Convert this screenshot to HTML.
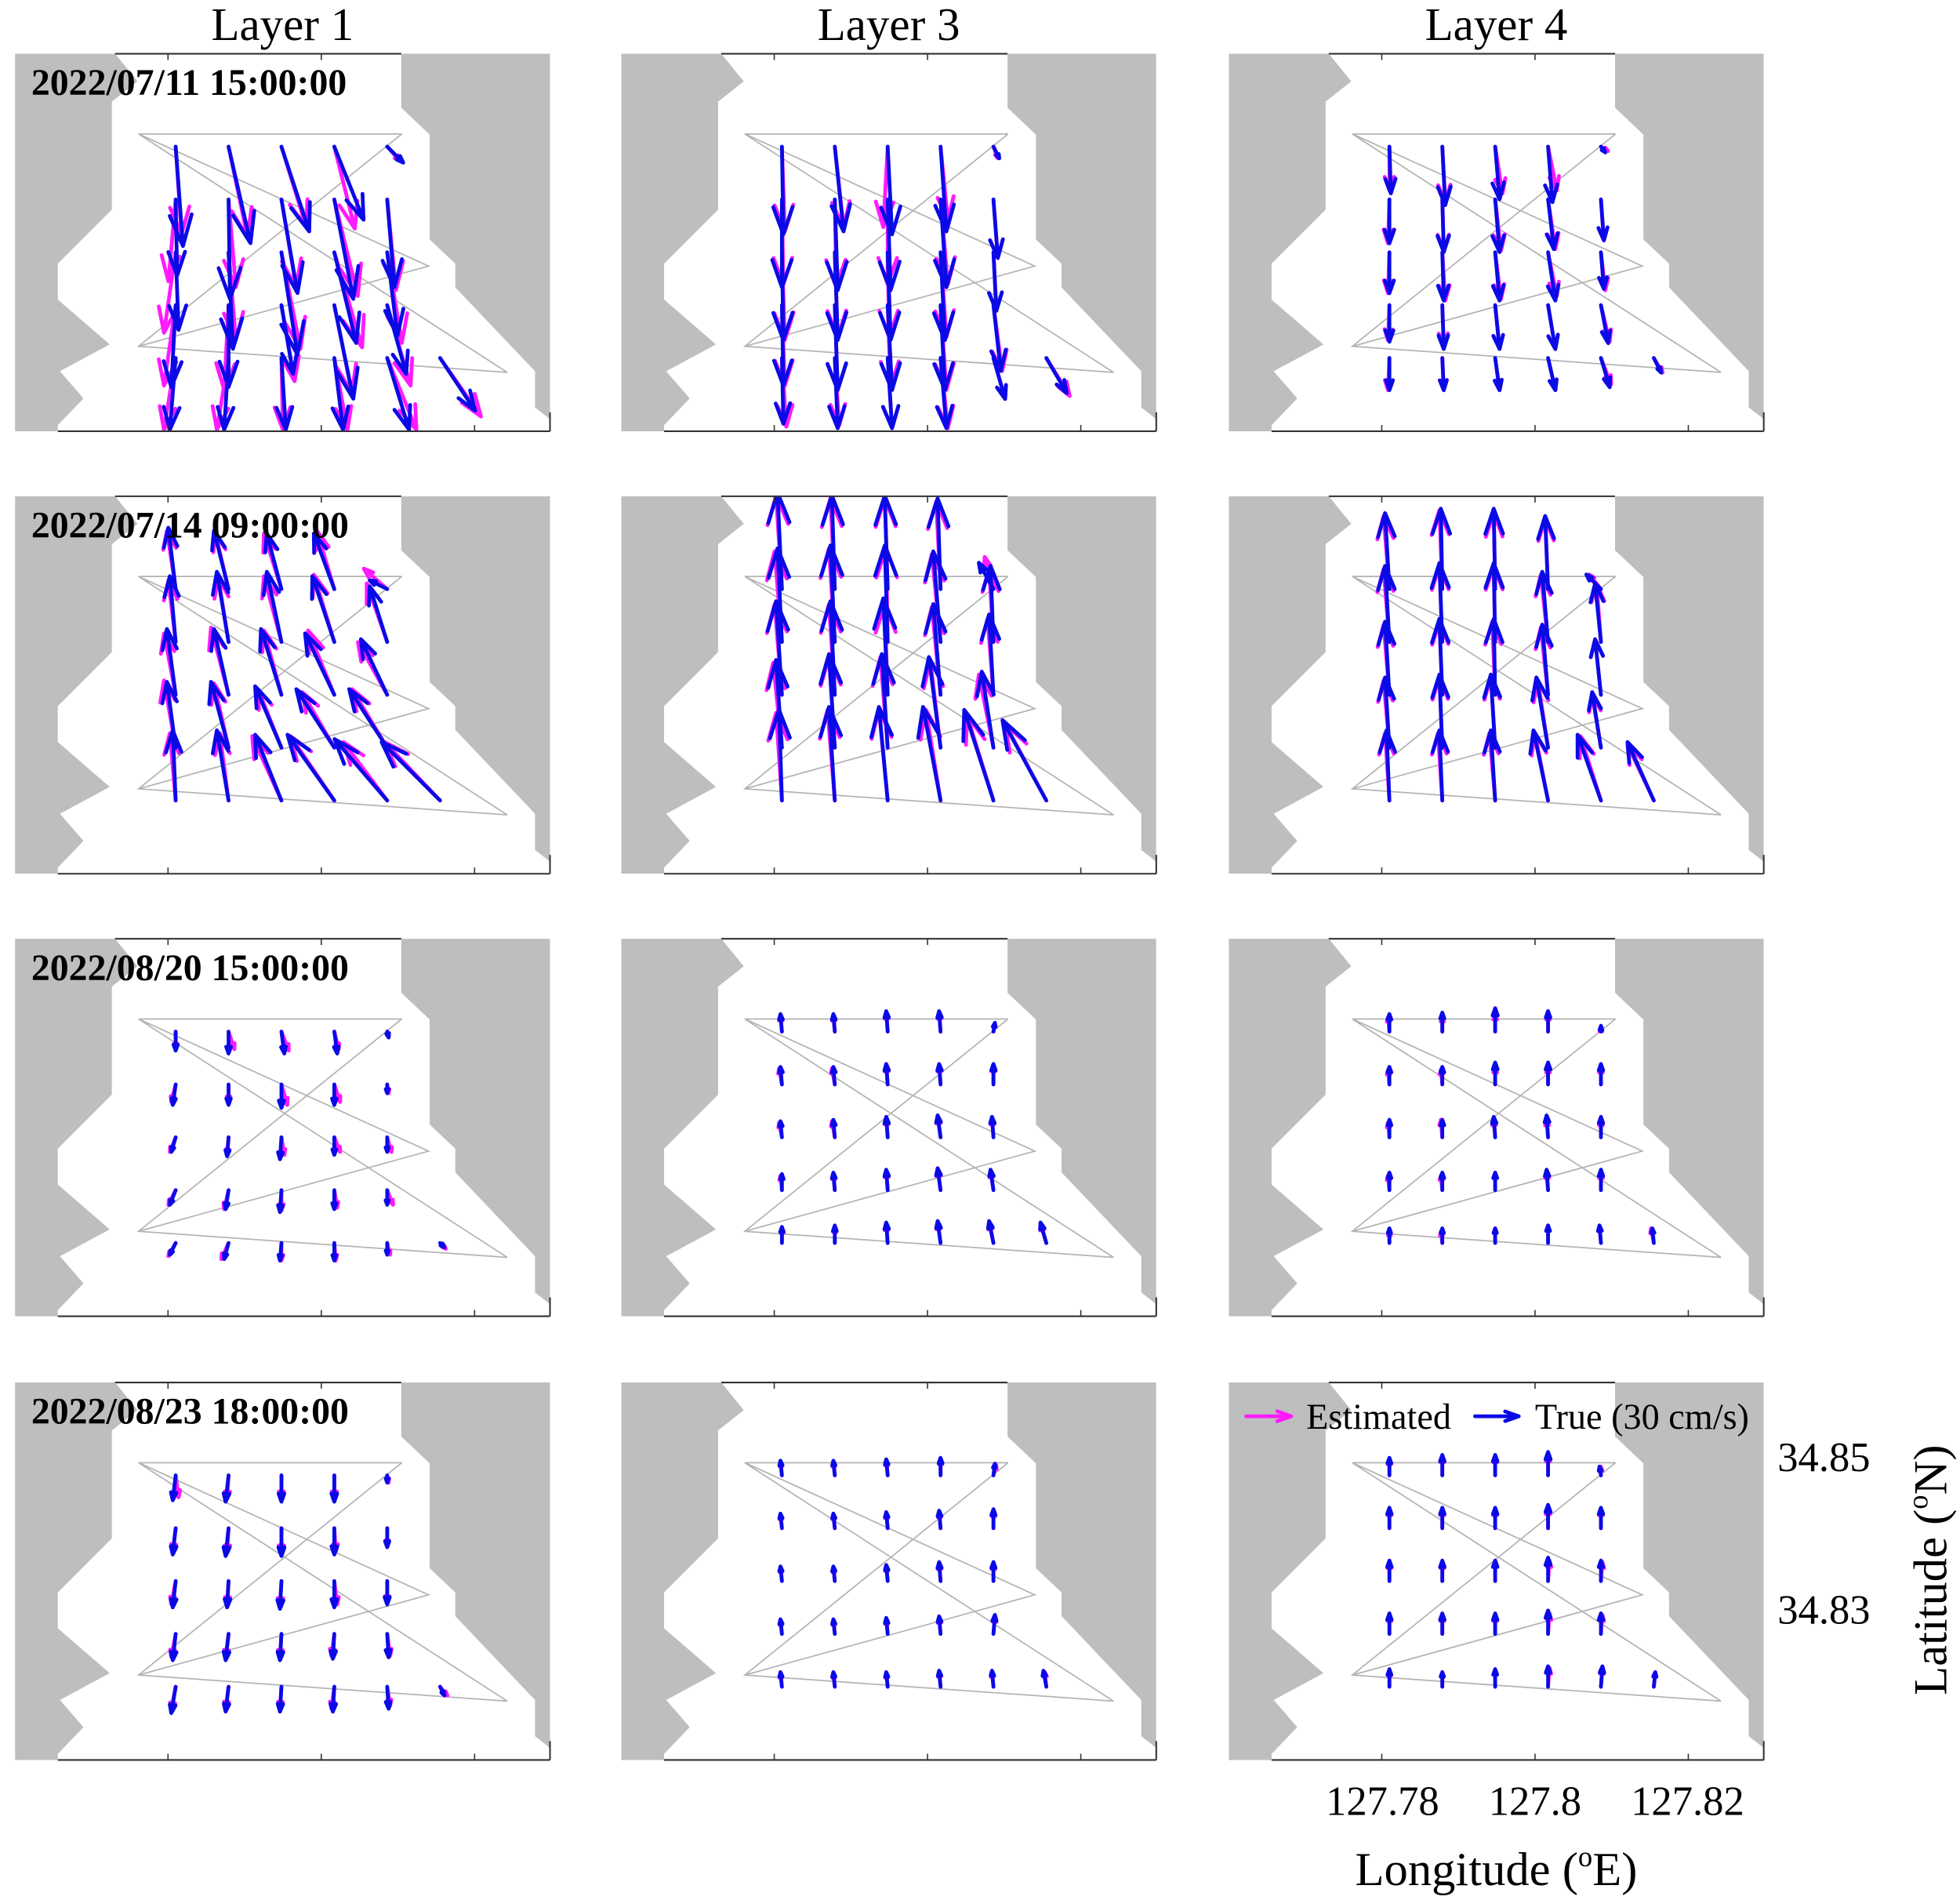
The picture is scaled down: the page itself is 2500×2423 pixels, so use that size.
<!DOCTYPE html>
<html><head><meta charset="utf-8">
<style>
html,body{margin:0;padding:0;background:#fff;}
svg{display:block;}
text{font-family:"Liberation Serif",serif;}
</style></head>
<body>
<svg id="fig" width="2500" height="2423" viewBox="0 0 1568 1520" preserveAspectRatio="none" xmlns="http://www.w3.org/2000/svg">
<rect x="0" y="0" width="1568" height="1520" fill="#fff"/>
<g id="panels"></g>
<text x="226" y="32" font-size="37" text-anchor="middle">Layer 1</text>
<text x="711" y="32" font-size="37" text-anchor="middle">Layer 3</text>
<text x="1197" y="32" font-size="37" text-anchor="middle">Layer 4</text>
<text x="1106" y="1452" font-size="33" text-anchor="middle">127.78</text>
<text x="1228" y="1452" font-size="33" text-anchor="middle">127.8</text>
<text x="1350" y="1452" font-size="33" text-anchor="middle">127.82</text>
<text x="1197" y="1508" font-size="38" text-anchor="middle">Longitude (<tspan font-size="23" dy="-15">o</tspan><tspan dy="15">E)</tspan></text>
<text x="1422" y="1177" font-size="33">34.85</text>
<text x="1422" y="1299" font-size="33">34.83</text>
<text transform="translate(1557,1256) rotate(-90)" font-size="38" text-anchor="middle">Latitude (<tspan font-size="23" dy="-15">o</tspan><tspan dy="15">N)</tspan></text>
</svg>
<script>
// ---- data ----
const layers = ["Layer 1","Layer 3","Layer 4"];
const dates = ["2022/07/11 15:00:00","2022/07/14 09:00:00","2022/08/20 15:00:00","2022/08/23 18:00:00"];
const gridLon = [127.781,127.7879,127.7948,127.8017,127.8086,127.8155];
const gridLat = [34.8477,34.8407,34.8337,34.8267,34.8197];
const rowCounts = [5,5,5,5,6];
const xTicks = [127.78,127.80,127.82];
// panel order: row-major (date x layer)
const trueU = [
[5,15,19,20,11, 1,1,11,13,5, 2,3,11,15,7, -3,0,8,13,13, -4,-3,3,6,15,24],
[1,6,3,4,4, 0,2,2,4,3, 1,2,2,3,2, 1,2,3,3,5, 1,2,3,4,8,14],
[1,2,3,3,3, 0,1,3,4,2, 0,1,3,5,2, 0,1,3,5,5, 0,1,3,5,6,5],
[-5,-10,-10,-14,-12, -4,-8,-10,-15,-12, -6,-10,-14,-20,-18, -6,-12,-18,-26,-26, -2,-8,-18,-32,-36,-40],
[-3,-2,-2,-2,-10, -3,-3,-2,-5,-2, -4,-3,-3,-5,-3, -4,-4,-4,-8,-8, -2,-4,-6,-12,-20,-30],
[-3,-1,-1,-2,-10, -3,-2,-1,-4,-4, -3,-2,-1,-4,-4, -3,-2,-3,-8,-6, -2,-2,-3,-10,-16,-18],
[0,0,2,2,1, -2,0,0,0,0, -3,-1,-1,0,0, -4,-2,-1,0,0, -4,-3,-1,0,0,3],
[-1,-1,-1,-1,1, -1,-1,-1,-1,0, -1,-1,-1,-2,-1, 0,-1,-1,-2,-2, 0,0,-1,-2,-3,-4],
[0,0,0,0,0, 0,0,0,0,0, 0,0,-1,-1,0, 0,0,0,-1,0, 0,0,0,0,-1,-1],
[-2,-2,0,0,0, -2,-2,0,0,0, -2,-1,-1,0,0, -2,-2,-1,-1,1, -3,-2,-1,-1,1,3],
[-1,-1,-1,0,1, -1,-1,-1,-1,0, -1,-1,-1,-1,0, -1,-1,-1,-1,1, -1,-1,-1,-1,-1,-2],
[0,0,0,0,-1, 0,0,0,0,0, 0,0,0,0,0, 0,0,0,0,0, 0,0,0,0,1,1]];
const trueV = [
[-68,-66,-58,-50,-11, -52,-68,-64,-68,-60, -53,-66,-70,-62,-57, -56,-56,-47,-64,-47, -49,-49,-49,-49,-49,-36],
[-60,-58,-60,-58,-8, -60,-62,-62,-60,-40, -60,-60,-60,-60,-40, -55,-58,-58,-58,-45, -45,-48,-48,-48,-28,-24],
[-32,-40,-36,-38,-4, -30,-36,-36,-34,-28, -28,-33,-33,-33,-25, -25,-30,-30,-30,-26, -22,-22,-22,-22,-20,-10],
[42,40,38,38,6, 45,48,48,45,38, 45,45,45,42,38, 45,45,42,40,40, 48,48,45,45,42,40],
[66,64,64,62,18, 64,66,66,62,52, 64,64,66,62,55, 60,64,64,62,52, 62,64,64,64,62,55],
[52,55,55,50,10, 52,54,54,48,40, 50,52,52,48,38, 48,50,50,48,38, 48,48,48,48,45,40],
[-13,-15,-15,-15,-4, -14,-14,-16,-14,-6, -10,-13,-15,-12,-10, -10,-13,-15,-13,-10, -8,-11,-12,-12,-8,-3],
[12,12,14,14,6, 12,12,14,14,14, 11,12,14,15,14, 11,12,14,15,14, 11,12,14,15,15,14],
[12,13,16,14,4, 12,12,15,15,14, 12,12,14,15,14, 12,12,12,14,14, 10,10,10,12,12,10],
[-17,-18,-18,-18,-5, -18,-19,-19,-18,-13, -18,-18,-19,-18,-16, -18,-18,-18,-17,-16, -18,-17,-17,-17,-15,-6],
[10,10,11,12,8, 10,10,11,12,13, 10,10,11,13,13, 10,10,11,12,13, 10,10,10,11,11,11],
[12,14,14,16,6, 14,14,14,16,14, 14,14,14,16,14, 14,14,14,16,14, 12,10,12,14,14,10]];
const estU = [
[4,13,17,14,9, -5,5,10,16,6, -8,5,13,19,10, -8,-3,9,12,16, -8,-8,1,9,20,28],
[2,6,-3,5,3, 1,1,0,5,3, 2,2,1,4,2, 2,2,2,4,6, 3,3,3,5,8,16],
[0,2,5,6,5, -1,1,4,5,2, -1,2,4,6,3, -1,1,3,5,6, -1,1,3,5,7,6],
[-6,-9,-12,-12,-16, -5,-7,-12,-14,-14, -8,-12,-12,-18,-20, -8,-10,-16,-22,-24, -4,-6,-20,-30,-30,-38],
[-4,-3,-2,-3,-6, -5,-4,-1,-6,-3, -5,-4,-2,-6,-4, -6,-4,-5,-7,-10, -4,-5,-6,-10,-18,-28],
[-4,-2,-1,-2,-8, -4,-2,-1,-5,-3, -4,-2,-2,-5,-4, -4,-2,-3,-7,-6, -3,-3,-4,-9,-14,-18],
[0,4,5,3,1, -3,0,4,4,1, -4,-1,2,4,3, -5,-3,0,2,4, -5,-5,0,1,2,4],
[-1,-1,-1,-1,1, -2,-2,-1,-1,0, -2,-2,-1,-2,-1, -1,-1,-1,-2,-2, 0,0,-1,-2,-3,-4],
[-1,0,0,0,0, -1,-1,0,0,0, -1,-1,-1,-1,0, -1,-1,0,-1,0, 0,-1,0,0,-1,-2],
[2,-1,0,0,1, -2,-1,0,1,0, -3,-1,-1,2,0, -3,-2,-1,-2,2, -3,-2,-1,-2,2,5],
[-1,-1,-1,0,2, -1,-1,-1,-1,0, -1,-1,-1,-1,0, -1,-1,-1,-1,1, -1,-1,-1,-1,-1,-1],
[0,0,0,0,0, 0,0,0,0,0, 0,0,0,1,1, 0,0,0,1,1, 0,0,0,1,1,1]];
const estV = [
[-60,-62,-55,-56,-10, -56,-60,-60,-66,-62, -55,-60,-66,-65,-62, -55,-58,-52,-60,-55, -49,-49,-49,-49,-49,-40],
[-58,-55,-55,-50,-8, -58,-60,-58,-58,-40, -60,-58,-58,-58,-40, -55,-58,-56,-58,-45, -47,-46,-48,-48,-28,-26],
[-30,-38,-32,-30,-3, -30,-35,-35,-34,-28, -28,-33,-32,-30,-26, -24,-28,-30,-30,-25, -22,-22,-22,-22,-18,-10],
[40,38,38,40,14, 42,44,45,46,40, 42,46,44,44,36, 46,44,40,38,40, 46,46,44,44,40,40],
[64,62,62,60,22, 62,64,64,60,50, 62,62,62,60,52, 58,62,62,60,50, 60,62,62,62,58,52],
[50,54,52,48,10, 50,52,52,46,40, 48,50,50,46,38, 46,48,48,46,36, 46,46,46,46,44,38],
[-12,-12,-13,-12,-4, -12,-12,-14,-12,-6, -10,-12,-12,-10,-10, -10,-13,-14,-12,-10, -9,-11,-12,-12,-8,-4],
[11,11,13,13,6, 11,11,13,13,13, 10,11,13,14,13, 10,11,13,14,13, 10,11,13,14,14,13],
[10,10,12,12,3, 10,10,12,12,12, 10,12,12,12,12, 10,10,12,12,12, 8,8,10,12,12,10],
[-15,-16,-16,-16,-5, -16,-17,-17,-16,-12, -16,-16,-17,-16,-15, -16,-16,-16,-15,-15, -16,-15,-15,-15,-13,-6],
[9,9,10,11,7, 9,9,10,11,12, 9,9,10,12,12, 9,9,10,11,12, 9,9,9,10,10,10],
[11,13,13,14,6, 13,13,13,14,13, 13,13,14,14,13, 13,13,13,14,13, 11,10,12,13,13,10]];

// ---- layout ----
const NS = "http://www.w3.org/2000/svg";
const colLeft = [12,497,983], rowTop = [43,397,751,1106], PW = 428, PH = 302;
const PX_PER_CMS = 1.17;
const root = document.getElementById('panels');
function mk(tag, attrs, parent){ const e=document.createElementNS(NS,tag); for(const k in attrs) e.setAttribute(k,attrs[k]); parent.appendChild(e); return e; }
function xOf(p, lon){ return colLeft[p%3] + PW*(0.286 + (lon-127.78)/0.02*0.2865); }
function yOf(p, lat){ return rowTop[Math.floor(p/3)] + PH*(0.2 - (lat-34.85)/0.02*0.4); }

const leftLand = [[0,0],[0.187,0],[0.229,0.073],[0.181,0.127],[0.181,0.413],[0.08,0.556],[0.08,0.651],[0.177,0.77],[0.084,0.841],[0.128,0.913],[0.08,0.984],[0.08,1],[0,1]];
const rightLand = [[0.722,0],[1,0],[1,0.968],[0.972,0.937],[0.972,0.841],[0.823,0.619],[0.823,0.556],[0.775,0.492],[0.775,0.214],[0.722,0.143]];
const route = [[0.231,0.2125],[0.723,0.2125],[0.231,0.2125],[0.773,0.5625],[0.231,0.775],[0.723,0.2125],[0.231,0.775],[0.92,0.844],[0.231,0.2125]];

function arrow(g, x, y, dx, dy, color, w, name){
  const L = Math.hypot(dx,dy); if (L < 0.5) return;
  const ex=x+dx, ey=y+dy, ux=dx/L, uy=dy/L;
  const h = Math.max(3.5, 0.33*L), a = 0.34;
  const ca=Math.cos(a), sa=Math.sin(a);
  const h1x = ex - h*(ux*ca - uy*sa), h1y = ey - h*(uy*ca + ux*sa);
  const h2x = ex - h*(ux*ca + uy*sa), h2y = ey - h*(uy*ca - ux*sa);
  const p = mk('path',{d:`M${x},${y}L${ex},${ey}M${h1x},${h1y}L${ex},${ey}L${h2x},${h2y}`,stroke:color,'stroke-width':w,fill:'none','stroke-linecap':'round','stroke-linejoin':'round'},g);
  
  
}

for (let p=0;p<12;p++){
  const L=colLeft[p%3], T=rowTop[Math.floor(p/3)];
  const g = mk('g',{},root);
  
  
  const cp = mk('clipPath',{id:'cp'+p},g); mk('rect',{x:L,y:T,width:PW,height:PH},cp);
  const inner = mk('g',{'clip-path':`url(#cp${p})`},g);
  mk('rect',{x:L,y:T,width:PW,height:PH,fill:'#fff'},inner);
  const ll = mk('polygon',{points:leftLand.map(q=>(L+q[0]*PW)+','+(T+q[1]*PH)).join(' '),fill:'#bebebe'},inner);
  
  
  const rl = mk('polygon',{points:rightLand.map(q=>(L+q[0]*PW)+','+(T+q[1]*PH)).join(' '),fill:'#bebebe'},inner);
  
  
  const rt = mk('polyline',{points:route.map(q=>(L+q[0]*PW)+','+(T+q[1]*PH)).join(' '),fill:'none',stroke:'#b4b4b4','stroke-width':1.1},inner);
  
  
  // axes
  mk('line',{x1:L+0.187*PW,y1:T,x2:L+0.722*PW,y2:T,stroke:'#333','stroke-width':1.3},g);
  mk('line',{x1:L+0.08*PW,y1:T+PH,x2:L+PW,y2:T+PH,stroke:'#333','stroke-width':1.3},g);
  mk('line',{x1:L+PW,y1:T+0.95*PH,x2:L+PW,y2:T+PH,stroke:'#333','stroke-width':1.3},g);
  xTicks.forEach(t=>{ const x=xOf(p,t);
    mk('line',{x1:x,y1:T+PH,x2:x,y2:T+PH-5,stroke:'#333','stroke-width':1},g);
    if (x < L+0.722*PW) mk('line',{x1:x,y1:T,x2:x,y2:T+5,stroke:'#333','stroke-width':1},g);
  });
  // arrows
  let k=0;
  const est = mk('g',{},inner), tru = mk('g',{},inner);
  for (let r=0;r<gridLat.length;r++) for (let c=0;c<rowCounts[r];c++){
    const x=xOf(p,gridLon[c]), y=yOf(p,gridLat[r]);
    arrow(est,x,y,estU[p][k]*PX_PER_CMS,-estV[p][k]*PX_PER_CMS,'#ff1aff',3,'estimated-arrow');
    arrow(tru,x,y,trueU[p][k]*PX_PER_CMS,-trueV[p][k]*PX_PER_CMS,'#0a0ae6',3,'true-arrow');
    k++;
  }
  if (p%3===0){
    const t = mk('text',{x:L+13,y:T+33,'font-size':30,'font-weight':'bold'},g);
    t.textContent = dates[Math.floor(p/3)];
    
    
  }
}
// legend in last panel
const lg = mk('g',{},root);


arrow(lg,997,1133,36,0,'#ff1aff',3,'legend-estimated-arrow');
const t1 = mk('text',{x:1045,y:1143,'font-size':29},lg); t1.textContent='Estimated';


arrow(lg,1180,1133,35,0,'#0a0ae6',3,'legend-true-arrow');
const t2 = mk('text',{x:1228,y:1143,'font-size':29},lg); t2.textContent='True (30 cm/s)';


</script>
</body></html>
